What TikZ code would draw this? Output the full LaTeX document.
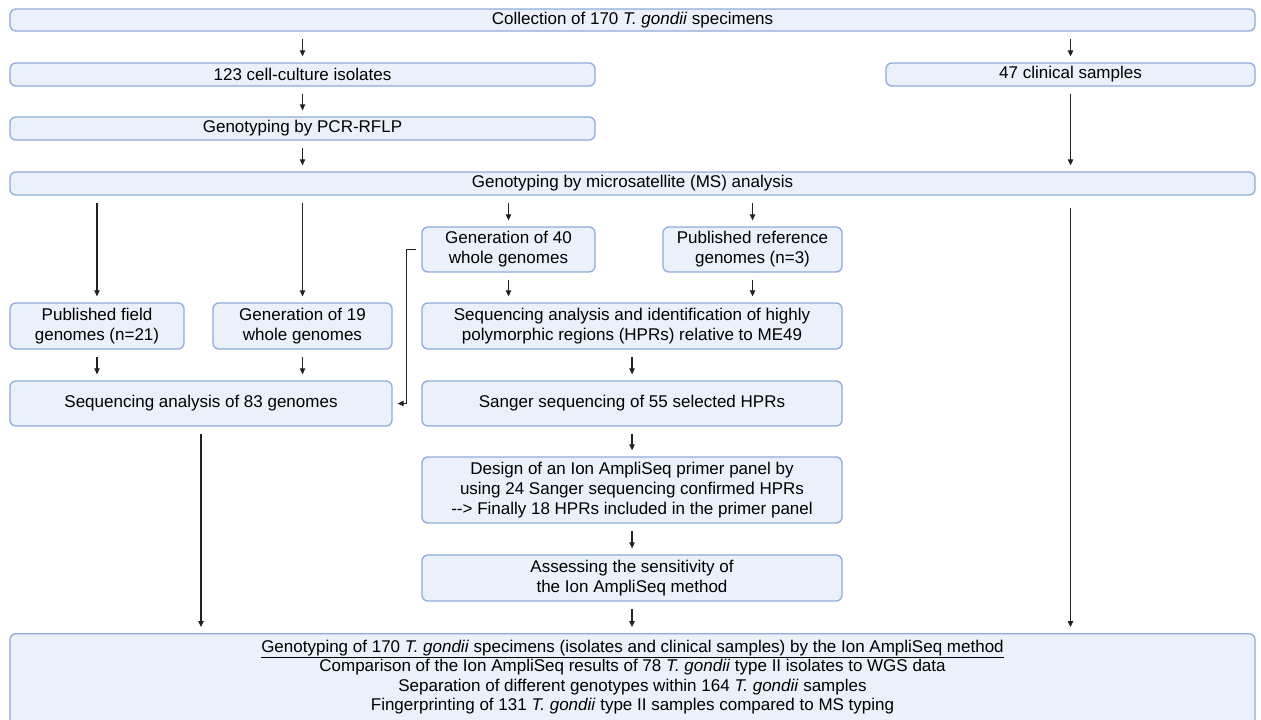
\documentclass[tikz,border=0pt]{standalone}
\usepackage{fontspec}
\setmainfont{Liberation Sans}
\usetikzlibrary{
  arrows.meta,
  positioning,
}
\definecolor{boxfill}{HTML}{EAF1FB}
\definecolor{boxline}{HTML}{8FAADC}
\definecolor{arrowcol}{HTML}{222222}

\begin{document}
\begin{tikzpicture}[
  x=1pt, y=-1pt,
  box/.style={draw=boxline, fill=boxfill, line width=1.3pt, rounded corners=6pt,
    align=center, inner sep=0pt, font=\fontsize{17}{20}\selectfont},
  arr/.style={draw=arrowcol, line width=1.2pt, -{Triangle[length=6pt,width=5.5pt]},
    shorten <=7pt, shorten >=6pt},
]
\useasboundingbox (0,0) rectangle (1261,720);
\node[box, minimum width=1245pt, minimum height=22pt] (collect) at (632.5,20) {Collection of 170 \textit{T. gondii} specimens};
\node[box, minimum width=585pt, minimum height=23pt] (cell) at (302.5,74.5) {123 cell-culture isolates};
\node[box, minimum width=369pt, minimum height=23pt] (clin) at (1070.5,74.5) {47 clinical samples};
\node[box, minimum width=585pt, minimum height=23pt] (pcr) at (302.5,128.5) {Genotyping by PCR-RFLP};
\node[box, minimum width=1245pt, minimum height=23pt] (ms) at (632.5,183.5) {Genotyping by microsatellite (MS) analysis};
\node[box, minimum width=173pt, minimum height=45pt] (gen40) at (508.5,249.5) {Generation of 40\\whole genomes};
\node[box, minimum width=179pt, minimum height=45pt] (ref) at (752.5,249.5) {Published reference\\genomes (n=3)};
\node[box, minimum width=174pt, minimum height=46pt] (field) at (97,326) {Published field\\genomes (n=21)};
\node[box, minimum width=179pt, minimum height=46pt] (gen19) at (302.5,326) {Generation of 19\\whole genomes};
\node[box, minimum width=420pt, minimum height=46pt] (seqhpr) at (632,326) {Sequencing analysis and identification of highly\\polymorphic regions (HPRs) relative to ME49};
\node[box, minimum width=382pt, minimum height=45pt] (seq83) at (201,403.5) {Sequencing analysis of 83 genomes};
\node[box, minimum width=420pt, minimum height=45pt] (sanger) at (632,403.5) {Sanger sequencing of 55 selected HPRs};
\node[box, minimum width=420pt, minimum height=66pt] (design) at (632,490) {Design of an Ion AmpliSeq primer panel by\\using 24 Sanger sequencing confirmed HPRs\\-{}-> Finally 18 HPRs included in the primer panel};
\node[box, minimum width=420pt, minimum height=46pt] (assess) at (632,578) {Assessing the sensitivity of\\the Ion AmpliSeq method};
\node[box, minimum width=1245pt, minimum height=102pt, anchor=north] (final) at (632.5,633) {};
\node[font=\fontsize{17}{19.3}\selectfont, align=center, anchor=north, inner sep=0pt] (finaltext) at (632.5,640)
  {\underline{Genotyping of 170 \textit{T. gondii} specimens (isolates and clinical samples) by the Ion AmpliSeq method}\\
   Comparison of the Ion AmpliSeq results of 78 \textit{T. gondii} type II isolates to WGS data\\
   Separation of different genotypes within 164 \textit{T. gondii} samples\\
   Fingerprinting of 131 \textit{T. gondii} type II samples compared to MS typing};

\draw[arr] (collect.south -| cell) -- (cell.north);
\draw[arr] (collect.south -| clin) -- (clin.north);
\draw[arr] (cell) -- (pcr);
\draw[arr] (pcr) -- (ms.north -| pcr);
\draw[arr] (clin.south) -- (ms.north -| clin);
\draw[arr] (ms.south -| field) -- (field.north);
\draw[arr] (ms.south -| gen19) -- (gen19.north);
\draw[arr] (ms.south -| gen40) -- (gen40.north);
\draw[arr] (ms.south -| ref) -- (ref.north);
\draw[arr, shorten <=12pt] (ms.south -| clin) -- (final.north -| clin);
\draw[arr] (gen40.south) -- (seqhpr.north -| gen40);
\draw[arr] (ref.south) -- (seqhpr.north -| ref);
\draw[arr] (field) -- (seq83.north -| field);
\draw[arr] (gen19) -- (seq83.north -| gen19);
\draw[arr, shorten <=5pt, shorten >=5pt] (gen40.west) -- ++(-15,0) |- (seq83.east);
\draw[arr] (seqhpr) -- (sanger);
\draw[arr] (sanger) -- (design);
\draw[arr] (design) -- (assess);
\draw[arr] (assess.south) -- (final.north -| assess);
\draw[arr] (seq83.south) -- (final.north -| seq83);
\end{tikzpicture}
\end{document}
